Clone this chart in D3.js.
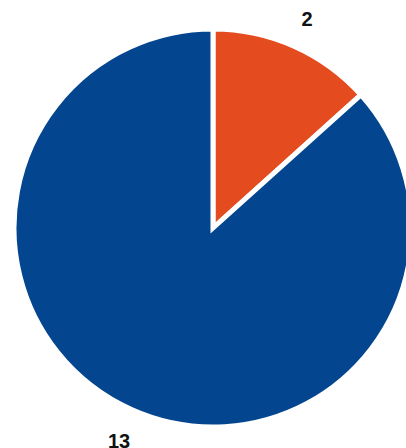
<!DOCTYPE html>
<html>
<head>
<meta charset="utf-8">
<script src="https://d3js.org/d3.v7.min.js"></script>
<style>
  body { margin: 0; background: #fff; }
  svg { display: block; }
  text { font-family: "Liberation Sans", Arial, sans-serif; font-weight: bold; }
</style>
</head>
<body>
<script>
const categories = ["A", "B"];
const values = [2, 13];
const colors = ["#e44b1f", "#03468f"];

const width = 406, height = 448;
const cx = 213, cy = 228, radius = 199;

const svg = d3.select("body").append("svg")
    .attr("width", width)
    .attr("height", height);

const pie = d3.pie().sort(null).value(d => d.value);
const arcs = pie(categories.map((c, i) => ({ cat: c, value: values[i], color: colors[i] })));

const arc = d3.arc().innerRadius(0).outerRadius(radius);
const labelArc = d3.arc().innerRadius(231).outerRadius(231);

const g = svg.append("g").attr("transform", `translate(${cx},${cy})`);

g.selectAll("path")
    .data(arcs)
    .enter()
    .append("path")
    .attr("d", arc)
    .attr("fill", d => d.data.color)
    .attr("stroke", "#fff")
    .attr("stroke-width", 5)
    .attr("stroke-linejoin", "miter");

g.selectAll("text")
    .data(arcs)
    .enter()
    .append("text")
    .attr("transform", d => {
        const [x, y] = labelArc.centroid(d);
        return `translate(${x},${y + 2})`;
    })
    .attr("text-anchor", "middle")
    .attr("dy", "0.35em")
    .attr("font-size", 20)
    .attr("fill", "#111")
    .text(d => d.data.value);
</script>
</body>
</html>
